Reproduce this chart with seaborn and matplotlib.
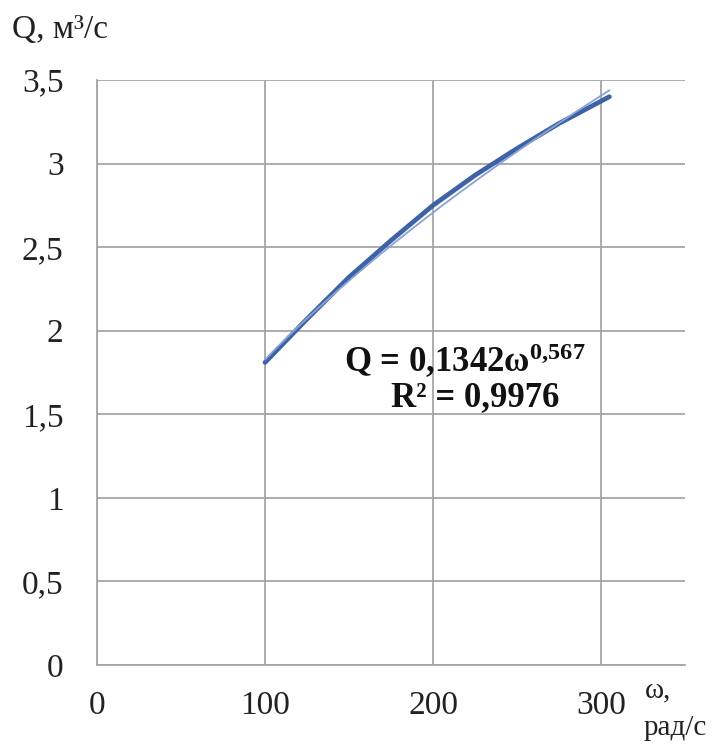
import numpy as np
import pandas as pd
import matplotlib
matplotlib.use("Agg")
import matplotlib.pyplot as plt
import seaborn as sns

# data
omega = [100, 125, 150, 175, 200, 225, 250, 275, 305]
Q = [1.81, 2.07, 2.32, 2.54, 2.75, 2.93, 3.09, 3.24, 3.40]
# power trend shown on the chart
A, B = 0.1342, 0.567
x_ticks = [0, 100, 200, 300]
x_labels = ["0", "100", "200", "300"]
y_ticks = [0, 0.5, 1, 1.5, 2, 2.5, 3, 3.5]
y_labels = ["0", "0,5", "1", "1,5", "2", "2,5", "3", "3,5"]

sns.set_theme(style="white")
plt.rcParams['font.family'] = ['Liberation Serif', 'DejaVu Serif']
plt.rcParams['mathtext.fontset'] = 'custom'
plt.rcParams['mathtext.rm'] = 'Liberation Serif'
plt.rcParams['mathtext.bf'] = 'Liberation Serif:bold'
plt.rcParams['mathtext.it'] = 'Liberation Serif:italic'

fig = plt.figure(figsize=(7.15, 7.44), dpi=100)
ax = fig.add_axes([97/715, 1-665/744, (685-97)/715, (665-80)/744])

df = pd.DataFrame({"omega": omega, "Q": Q})
xs = np.linspace(min(omega), max(omega), 200)
trend = pd.DataFrame({"omega": xs, "Q": A * xs ** B})

sns.lineplot(data=df, x="omega", y="Q", ax=ax, color="#3f62a6", linewidth=3.4,
             solid_capstyle="round")
sns.lineplot(data=trend, x="omega", y="Q", ax=ax, color="#86a4d4", linewidth=1.3)

ax.set_xlim(0, 350)
ax.set_ylim(0, 3.5)
ax.set_xticks(x_ticks)
ax.set_xticklabels(x_labels)
ax.set_yticks(y_ticks)
ax.set_yticklabels(y_labels)
ax.tick_params(axis='both', length=0, labelsize=24, colors="#222222")
ax.tick_params(axis='y', pad=24)
ax.tick_params(axis='x', pad=18)
ax.grid(True, color="#a6a6a6", linewidth=1.3)
ax.set_axisbelow(True)
for s in ["top", "right"]:
    ax.spines[s].set_visible(False)
for s in ["left", "bottom"]:
    ax.spines[s].set_color("#a6a6a6")
    ax.spines[s].set_linewidth(1.3)
ax.set_xlabel("")
ax.set_ylabel("")

fig.text(12/715, 1-30/744, "Q, м³/с", fontsize=24, va="center", ha="left", color="#222222")
fig.text(658/715, 1-690/744, "ω,", fontsize=21, va="center", ha="center", color="#222222")
fig.text(675/715, 1-728/744, "рад/с", fontsize=21, va="center", ha="center", color="#222222")

ax.text(219, 1.82, r"Q = 0,1342ω$^{\mathbf{0{,}567}}$", fontsize=25, fontweight="bold",
        ha="center", va="center", color="#111111")
ax.text(225, 1.60, "R² = 0,9976", fontsize=25, fontweight="bold",
        ha="center", va="center", color="#111111")

fig.savefig("out.png", dpi=100, facecolor="white")
